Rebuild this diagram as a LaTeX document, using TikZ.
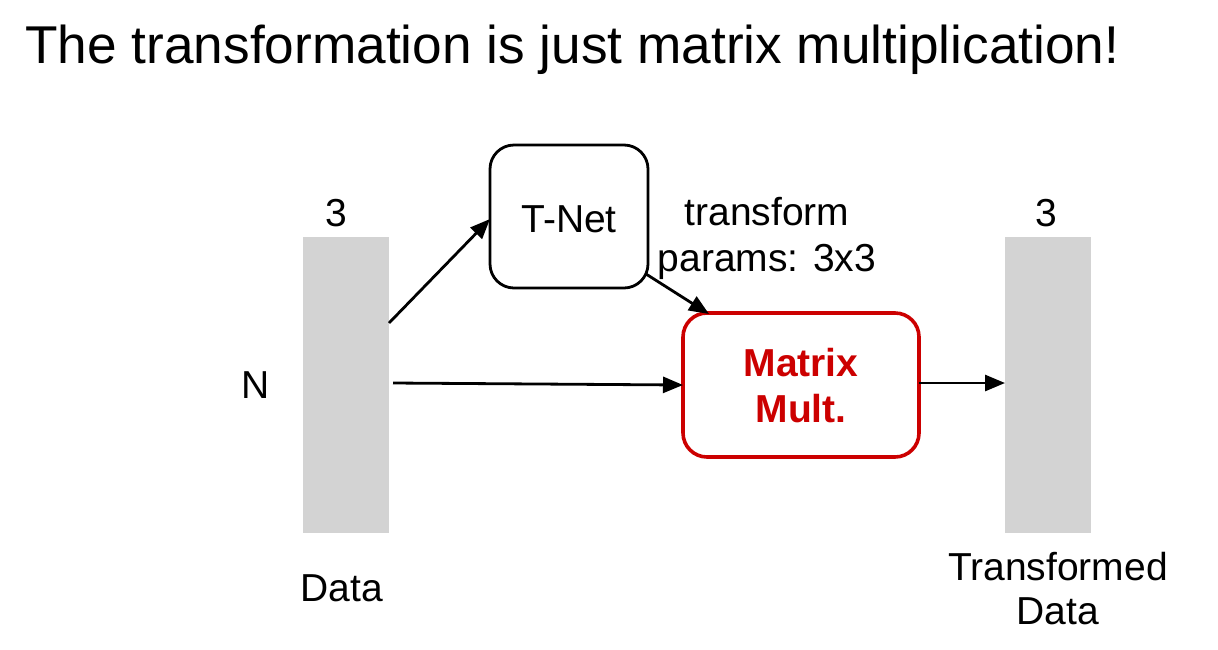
\documentclass[tikz,border=0pt]{standalone}
\usepackage{fontspec}
\setmainfont{Liberation Sans}
\usetikzlibrary{arrows.meta}
\definecolor{barcol}{RGB}{211,211,211}
\definecolor{mred}{RGB}{204,0,0}
\begin{document}
\begin{tikzpicture}[x=0.5pt,y=-0.5pt,
  lbl/.style={inner sep=0pt,anchor=base,font=\fontsize{19.5pt}{23pt}\selectfont},
  bar/.style={fill=barcol,draw=none},
  conn/.style={line width=1.4pt,-{Triangle[length=10pt,width=8pt]}},
  ttl/.style={inner sep=0pt,anchor=base west,font=\fontsize{26.6pt}{30pt}\selectfont}]
\useasboundingbox[fill=white] (0,0) rectangle (1218,649);
\node[ttl] (title) at (25,63) {The transformation is just matrix multiplication!};
% bars
\fill[bar] (303,237) rectangle (389,533);
\fill[bar] (1005,237) rectangle (1091,533);
\coordinate (dataTR) at (389,323);
\coordinate (dataR) at (393,383);
\coordinate (outL) at (1005,383);
% boxes
\draw[line width=1.4pt,rounded corners=12pt] (490,145) rectangle (648,288);
\coordinate (tnetL) at (490,219);
\coordinate (tnetBR) at (646,274);
\node[lbl] (tnet) at (569,232) {T-Net};
\draw[mred,line width=1.8pt,rounded corners=12pt] (683,313) rectangle (919,457);
\coordinate (mmL) at (683,385);
\coordinate (mmT) at (709,314);
\coordinate (mmR) at (919,383);
\node[lbl,text=mred,font=\fontsize{19.5pt}{23pt}\selectfont\bfseries] (mm1) at (801,376) {Matrix};
\node[lbl,text=mred,font=\fontsize{19.5pt}{23pt}\selectfont\bfseries] (mm2) at (801,422) {Mult.};
% labels
\node[lbl] (three1) at (336,226) {3};
\node[lbl] (three2) at (1046,226) {3};
\node[lbl] (n) at (256,398) {N};
\node[lbl] (data) at (342,601) {Data};
\node[lbl] (tf1) at (767,225) {transform};
\node[lbl] (tf2) at (767,271) {params: 3x3};
\node[lbl] (td1) at (1058,580) {Transformed};
\node[lbl] (td2) at (1058,624) {Data};
% connectors
\draw[conn] (dataTR) -- (tnetL);
\draw[conn] (tnetBR) -- (mmT);
\draw[conn] (dataR) -- (mmL);
\draw[conn] (mmR) -- (outL);
\end{tikzpicture}
\end{document}
